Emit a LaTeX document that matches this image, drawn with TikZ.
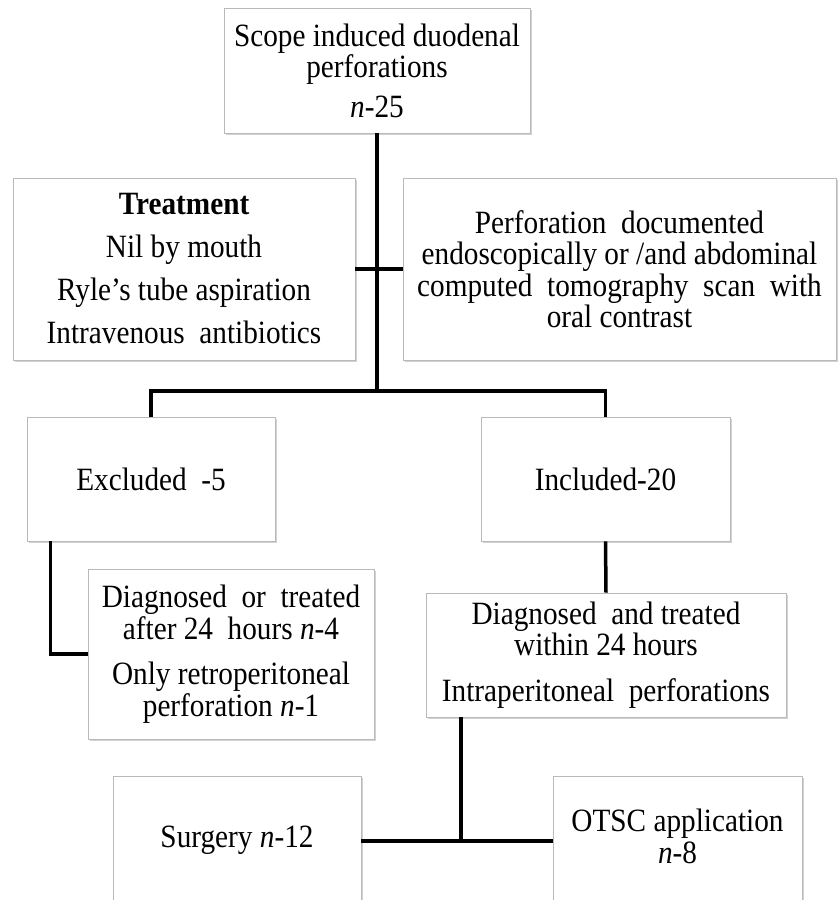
\documentclass[tikz,border=0pt]{standalone}
\usepackage{fontspec}
\setmainfont{Liberation Serif}[FakeStretch=0.9]
\usetikzlibrary{shadows}

\tikzset{
  box/.style={draw=gray!55, line width=0.8pt, fill=white, inner sep=0pt, align=center,
    font=\fontsize{32.5}{31.5}\selectfont,
    drop shadow={shadow xshift=1.5pt, shadow yshift=-2pt, fill=gray!70, opacity=0.5}},
  link/.style={line width=3.5pt, line join=miter}
}

\begin{document}
\begin{tikzpicture}[x=1pt,y=-1pt]
    \useasboundingbox (0,0) rectangle (838,900);
    \clip (0,0) rectangle (838,900);

    \node[box, minimum width=306pt, minimum height=125pt] (scope) at (377,70.5)
        {Scope induced duodenal\\perforations\\[8pt]\textit{n}-25};

    \node[box, minimum width=342pt, minimum height=182pt] (treat) at (184,269)
        {\textbf{Treatment}\\[11.5pt]Nil by mouth\\[11.5pt]Ryle's tube aspiration\\[11.5pt]Intravenous\ \ antibiotics};
    \node[box, minimum width=433pt, minimum height=182pt] (perf) at (619.5,269)
        {Perforation\ \ documented\\endoscopically or /and abdominal\\computed\ \ tomography\ \ scan\ \ with\\oral contrast};

    \node[box, minimum width=248pt, minimum height=124pt] (excl) at (151,479) {Excluded\ \ -5};
    \node[box, minimum width=249pt, minimum height=124pt] (incl) at (605.5,479) {Included-20};

    \node[box, minimum width=286pt, minimum height=170pt] (late) at (231,654)
        {Diagnosed\ \ or\ \ treated\\after 24\ \ hours \textit{n}-4\\[14pt]Only retroperitoneal\\perforation \textit{n}-1};
    \node[box, minimum width=360pt, minimum height=124pt] (early) at (606,655)
        {Diagnosed\ \ and treated\\within 24 hours\\[14pt]Intraperitoneal\ \ perforations};

    \node[box, minimum width=248pt, minimum height=130pt] (surg) at (237,841)
        {\raisebox{9pt}{Surgery \textit{n}-12}};
    \node[box, minimum width=249pt, minimum height=130pt] (otsc) at (677.5,841)
        {\raisebox{9pt}{\begin{tabular}{@{}c@{}}OTSC application\\\textit{n}-8\end{tabular}}};

    \coordinate (split) at (377,391);
    \coordinate (join) at (461,841);

    \draw[link] (scope.south) -- (split);
    \draw[link] (treat.east) -- (perf.west);
    \draw[link] (excl.north) |- (split) -| (incl.north);

    \draw[link] ([xshift=24pt]excl.south west) |- (late.west);
    \draw[link] (incl.south) -- (early.north);

    \draw[link] (early.south -| join) -- (join);
    \draw[link] (surg.east) -- (otsc.west);
\end{tikzpicture}
\end{document}
